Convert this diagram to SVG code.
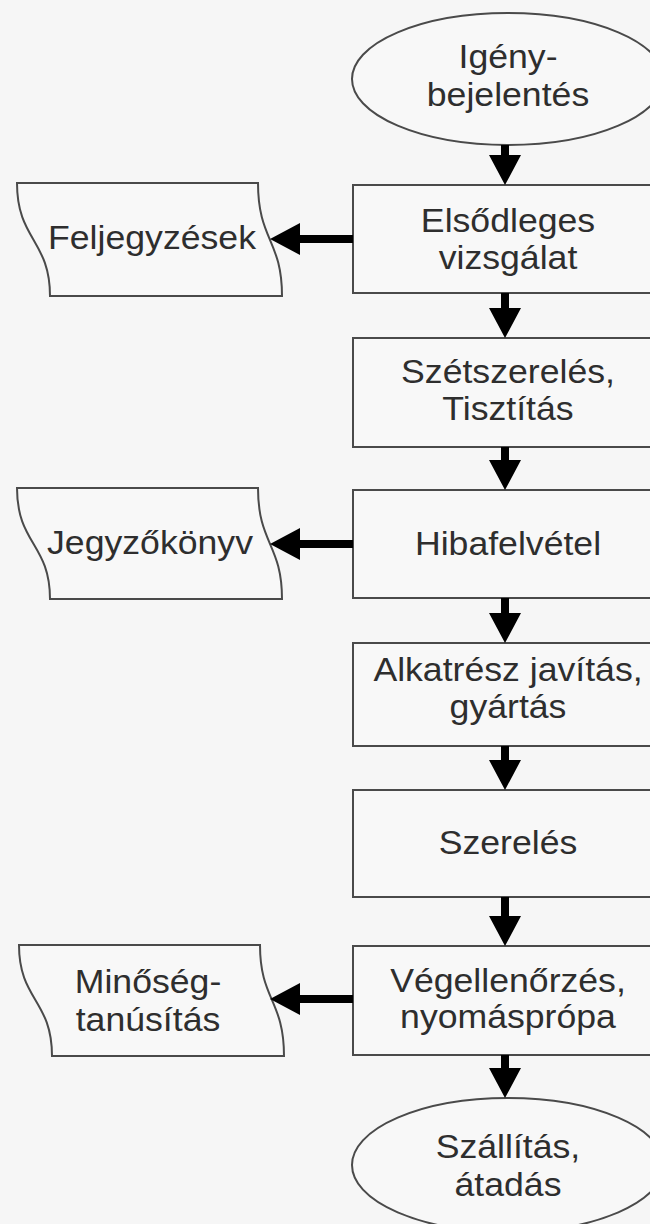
<svg xmlns="http://www.w3.org/2000/svg" width="650" height="1224" viewBox="0 0 650 1224">
<style>
.bg{fill:#f6f6f6}
.box{fill:#f8f8f8;stroke:#4a4a4a;stroke-width:2}
.t{font-family:"Liberation Sans",Arial,sans-serif;font-size:33px;fill:#2e2e2e;text-anchor:middle}
.arr{fill:#000}
</style>
<rect class="bg" x="0" y="0" width="650" height="1224"/>
<g id="start">
<ellipse class="box" cx="508" cy="79" rx="156" ry="66"/>
<text class="t" transform="translate(508,68) scale(1.08,1)">Igény-</text>
<text class="t" transform="translate(508,106) scale(1.08,1)">bejelentés</text>
</g>
<g id="n1">
<rect class="box" x="353" y="185" width="320" height="108"/>
<text class="t" transform="translate(508,232) scale(1.08,1)">Elsődleges</text>
<text class="t" transform="translate(508,269) scale(1.08,1)">vizsgálat</text>
</g>
<g id="n2">
<rect class="box" x="353" y="338" width="320" height="109"/>
<text class="t" transform="translate(508,383) scale(1.08,1)">Szétszerelés,</text>
<text class="t" transform="translate(508,420) scale(1.08,1)">Tisztítás</text>
</g>
<g id="n3">
<rect class="box" x="353" y="490" width="320" height="108"/>
<text class="t" transform="translate(508,555) scale(1.08,1)">Hibafelvétel</text>
</g>
<g id="n4">
<rect class="box" x="353" y="643" width="320" height="103"/>
<text class="t" transform="translate(508,681) scale(1.08,1)">Alkatrész javítás,</text>
<text class="t" transform="translate(508,718) scale(1.08,1)">gyártás</text>
</g>
<g id="n5">
<rect class="box" x="353" y="790" width="320" height="107"/>
<text class="t" transform="translate(508,854) scale(1.08,1)">Szerelés</text>
</g>
<g id="n6">
<rect class="box" x="353" y="946" width="320" height="109"/>
<text class="t" transform="translate(508,992) scale(1.08,1)">Végellenőrzés,</text>
<text class="t" transform="translate(508,1028) scale(1.08,1)">nyomásprópa</text>
</g>
<g id="end">
<ellipse class="box" cx="508" cy="1165" rx="156" ry="67"/>
<text class="t" transform="translate(508,1158) scale(1.08,1)">Szállítás,</text>
<text class="t" transform="translate(508,1196) scale(1.08,1)">átadás</text>
</g>
<g id="d1">
<path class="box" d="M17,183 C17,240 50,240 50,296 L282,296 C282,240 258,240 258,183 Z"/>
<text class="t" transform="translate(152,249) scale(1.08,1)">Feljegyzések</text>
</g>
<g id="d2">
<path class="box" d="M17,488 C17,544 50,544 50,599 L282,599 C282,544 258,544 258,488 Z"/>
<text class="t" transform="translate(150,554) scale(1.08,1)">Jegyzőkönyv</text>
</g>
<g id="d3">
<path class="box" d="M19,945 C19,1000 52,1000 52,1056 L284,1056 C284,1000 260,1000 260,945 Z"/>
<text class="t" transform="translate(148,993) scale(1.08,1)">Minőség-</text>
<text class="t" transform="translate(148,1031) scale(1.08,1)">tanúsítás</text>
</g>
<g id="connectors">
<path class="arr" d="M501,145 H509 V155 H521 L505,185 L489,155 H501 Z"/>
<path class="arr" d="M501,293 H509 V308 H521 L505,338 L489,308 H501 Z"/>
<path class="arr" d="M501,447 H509 V460 H521 L505,490 L489,460 H501 Z"/>
<path class="arr" d="M501,598 H509 V613 H521 L505,643 L489,613 H501 Z"/>
<path class="arr" d="M501,746 H509 V760 H521 L505,790 L489,760 H501 Z"/>
<path class="arr" d="M501,897 H509 V916 H521 L505,946 L489,916 H501 Z"/>
<path class="arr" d="M501,1055 H509 V1068 H521 L505,1098 L489,1068 H501 Z"/>
<path class="arr" d="M353,235 V243 H300 V255 L270,239 L300,223 V235 Z"/>
<path class="arr" d="M353,540 V548 H300 V560 L270,544 L300,528 V540 Z"/>
<path class="arr" d="M353,995 V1003 H300 V1015 L270,999 L300,983 V995 Z"/>
</g>
</svg>
